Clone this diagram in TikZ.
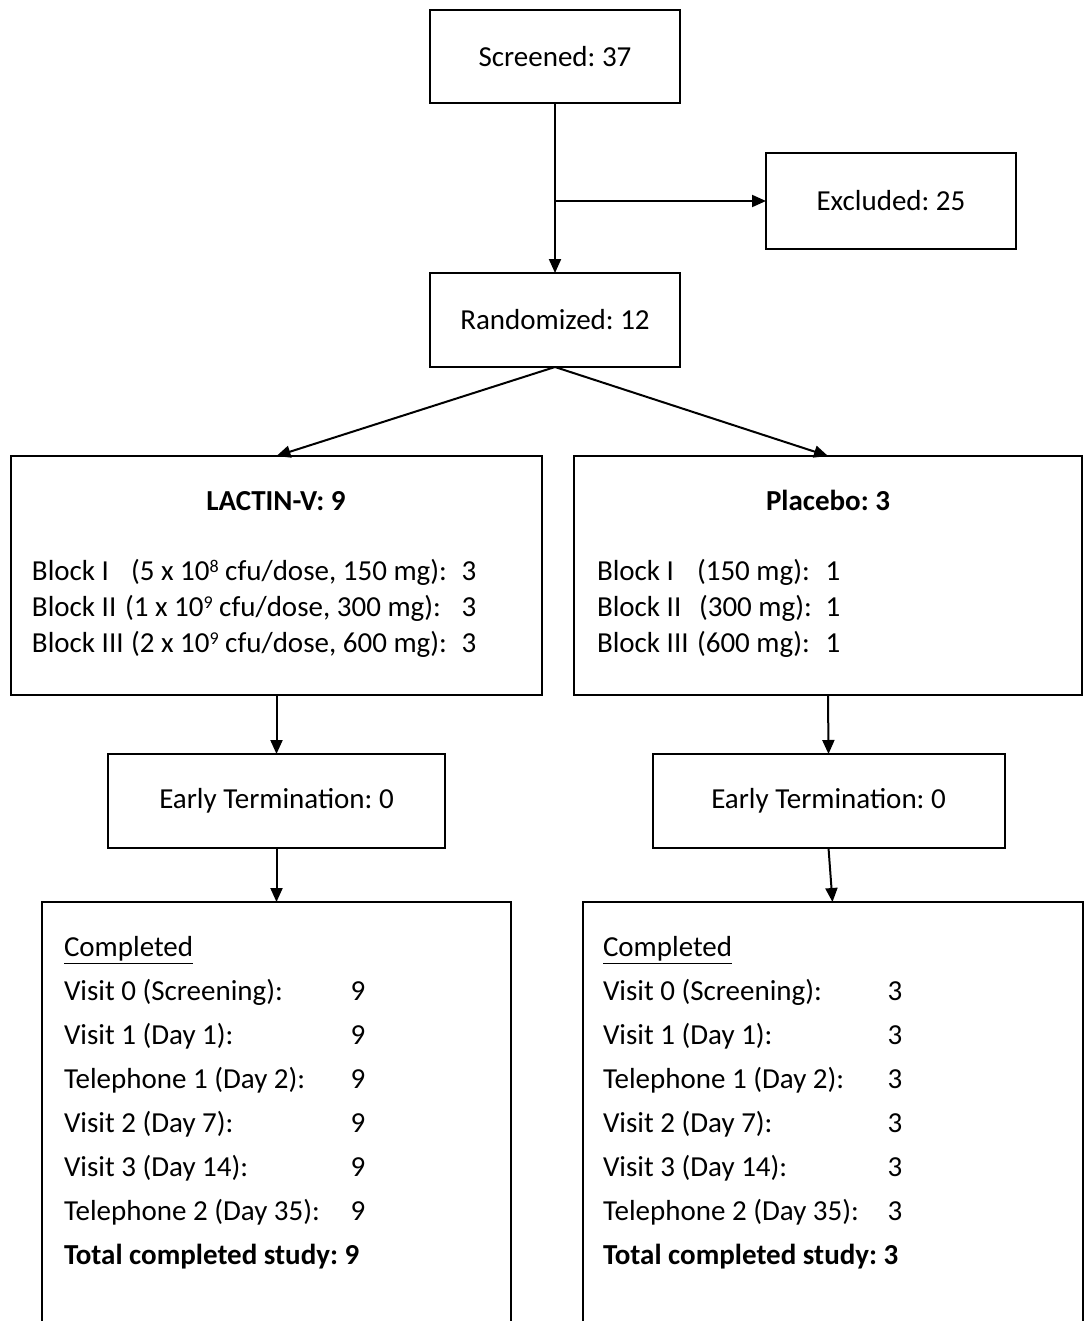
\documentclass[tikz,border=0pt]{standalone}
\usepackage{fontspec}
\setmainfont{Carlito}
\usetikzlibrary{arrows.meta,positioning,calc}
\frenchspacing
\newcommand{\expo}[1]{\raisebox{0.55ex}{\fontsize{9}{9}\selectfont #1}}

\begin{document}
\begin{tikzpicture}[x=0.5pt, y=-0.5pt, line width=1pt,
 >={Triangle[length=7pt,width=6pt]},
 box/.style={draw, inner sep=0pt, outer sep=0pt, font=\fontsize{14.5}{17}\selectfont},
 txt/.style={inner sep=0pt, anchor=base west, font=\fontsize{14.5}{17}\selectfont},
 num/.style={inner sep=0pt, anchor=base, font=\fontsize{14.5}{17}\selectfont}]
\useasboundingbox (0,0) rectangle (1084,1321);
% boites du haut
\node[box, minimum width=125pt, minimum height=46.5pt] (scr) at (555,56.5) {Screened: 37};
\node[box, minimum width=125pt, minimum height=48pt] (exc) at (891,201) {Excluded: 25};
\node[box, minimum width=125pt, minimum height=47pt] (rnd) at (555,320) {Randomized: 12};
\coordinate (br) at (555,201);
\draw[->] (scr) -- (rnd);
\draw[->] (br) -- (exc);
% bras
\node[box, minimum width=265.5pt, minimum height=119.5pt] (lac) at (276.5,575.5) {};
\node[box, minimum width=254pt, minimum height=119.5pt] (pla) at (828,575.5) {};
\draw[->] (rnd.south) -- (lac.north);
\draw[->] (rnd.south) -- (pla.north);
\node[num, font=\fontsize{14.5}{17}\selectfont\bfseries] (lact) at (276,510) {LACTIN-V: 9};
\node[num, font=\fontsize{14.5}{17}\selectfont\bfseries] (plat) at (828,510) {Placebo: 3};
\foreach \y/\a/\b/\p [count=\i] in {
  580/{Block I}/{(5 x 10\expo{8} cfu/dose, 150 mg):}/130,
  616/{Block II}/{(1 x 10\expo{9} cfu/dose, 300 mg):}/124,
  652/{Block III}/{(2 x 10\expo{9} cfu/dose, 600 mg):}/130} {
  \node[txt] (lb\i) at (31,\y) {\a};
  \node[txt] (ld\i) at (\p,\y) {\b};
  \node[num] (ln\i) at (469,\y) {3};
}
\foreach \y/\a/\b/\p [count=\i] in {
  580/{Block I}/{(150 mg):}/696,
  616/{Block II}/{(300 mg):}/698,
  652/{Block III}/{(600 mg):}/696} {
  \node[txt] (pb\i) at (596,\y) {\a};
  \node[txt] (pd\i) at (\p,\y) {\b};
  \node[num] (pn\i) at (833,\y) {1};
}
% arret precoce
\node[box, minimum width=168.5pt, minimum height=47pt] (etl) at (276.5,801) {Early Termination: 0};
\node[box, minimum width=176pt, minimum height=47pt] (etr) at (828.5,801) {Early Termination: 0};
\draw[->] (lac.south) -- (etl.north);
\draw[->] (pla.south) -- (etr.north);
% completes
\node[box, minimum width=234.5pt, minimum height=219pt] (cpl) at (276.5,1121) {};
\node[box, minimum width=250pt, minimum height=219pt] (cpr) at (832.5,1121) {};
\draw[->] (etl.south) -- (cpl.north);
\draw[->] (etr.south) -- (cpr.north);
\node[txt] (cpl0) at (63,956) {\underline{Completed}};
\node[txt] (cpr0) at (602,956) {\underline{Completed}};
\foreach \y/\t [count=\i] in {1000/{Visit 0 (Screening):}, 1044/{Visit 1 (Day 1):},
  1088/{Telephone 1 (Day 2):}, 1132/{Visit 2 (Day 7):}, 1176/{Visit 3 (Day 14):},
  1220/{Telephone 2 (Day 35):}} {
  \node[txt] (cl\i) at (63,\y) {\t};
  \node[num] (cln\i) at (358,\y) {9};
  \node[txt] (cr\i) at (602,\y) {\t};
  \node[num] (crn\i) at (895,\y) {3};
}
\node[txt, font=\fontsize{14.5}{17}\selectfont\bfseries] (ctl) at (63,1264) {Total completed study: 9};
\node[txt, font=\fontsize{14.5}{17}\selectfont\bfseries] (ctr) at (602,1264) {Total completed study: 3};
\end{tikzpicture}
\end{document}
